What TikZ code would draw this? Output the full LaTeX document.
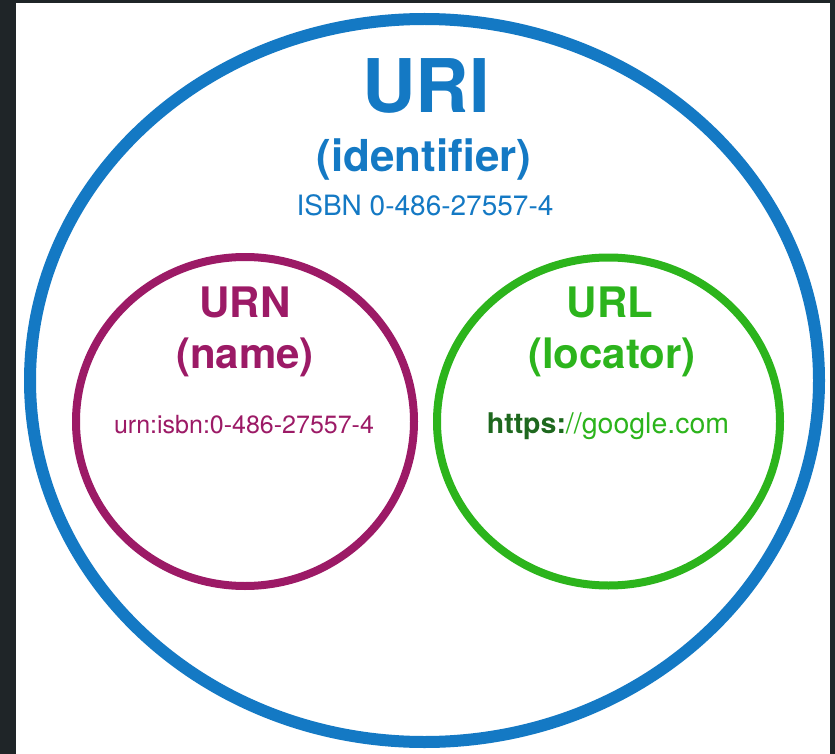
\documentclass[tikz,border=0pt]{standalone}
\usepackage{fontspec}
\setmainfont{TeX Gyre Heros}
\definecolor{uriblue}{RGB}{20,121,196}
\definecolor{urnpurple}{RGB}{156,26,102}
\definecolor{urlgreen}{RGB}{44,180,28}
\definecolor{darkgreen}{RGB}{30,104,30}
\definecolor{frame}{RGB}{31,37,40}
\begin{document}
\begin{tikzpicture}[x=1pt,y=-1pt,
  lbl/.style={anchor=base, inner sep=0pt, outer sep=0pt},
  big/.style={lbl, font=\fontsize{74}{80}\selectfont\bfseries},
  mid/.style={lbl, font=\fontsize{42}{46}\selectfont\bfseries},
]
\useasboundingbox (0,0) rectangle (835,754);
\fill[frame] (0,0) rectangle (835,754);
\fill[white] (16,3) rectangle (830,754);
% circles
\draw[uriblue, line width=12pt] (424.5,380.5) ellipse [x radius=394.5pt, y radius=361.5pt];
\draw[urnpurple, line width=8pt] (245,421.5) ellipse [x radius=169pt, y radius=164.5pt];
\draw[urlgreen, line width=8pt] (608.5,421.5) ellipse [x radius=171.5pt, y radius=164pt];
% URI texts
\node[big, text=uriblue] (uri) at (426,113) {URI};
\node[lbl, text=uriblue, font=\fontsize{44}{48}\selectfont\bfseries] (ident) at (424,172) {(identifier)};
\node[lbl, text=uriblue, font=\fontsize{28}{32}\selectfont] (isbn) at (425,215) {ISBN 0-486-27557-4};
% URN texts
\node[mid, text=urnpurple] (urn) at (245,317) {URN};
\node[mid, text=urnpurple] (name) at (245,368) {(name)};
\node[lbl, text=urnpurple, font=\fontsize{25}{28}\selectfont] (urnisbn) at (244,433) {urn:isbn:0-486-27557-4};
% URL texts
\node[mid, text=urlgreen] (url) at (610,317) {URL};
\node[mid, text=urlgreen] (loc) at (612,368) {(locator)};
\node[lbl, text=urlgreen, font=\fontsize{28.5}{32}\selectfont] (https) at (608,433) {\textcolor{darkgreen}{\bfseries https:}//google.com};
\end{tikzpicture}
\end{document}
